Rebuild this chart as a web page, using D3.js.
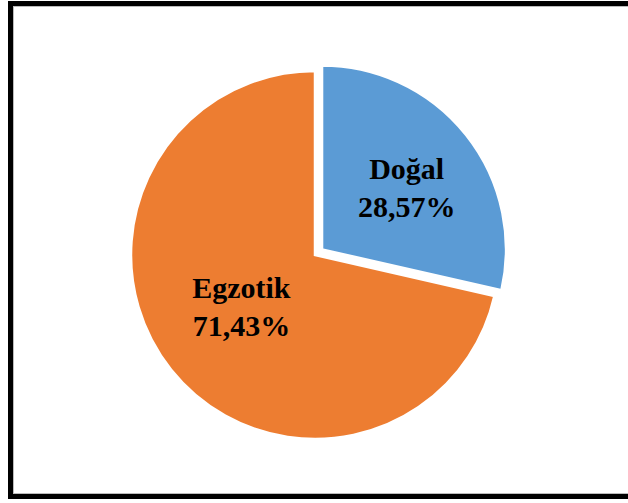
<!DOCTYPE html>
<html>
<head>
<meta charset="utf-8">
<script src="https://cdn.jsdelivr.net/npm/d3@7"></script>
<style>
  html, body { margin: 0; padding: 0; background: #fff; }
  svg { display: block; }
</style>
</head>
<body>
<svg id="chart" width="628" height="503"></svg>
<script>
// pie data
const categories = ["Doğal", "Egzotik"];
const values = [28.57, 71.43];
const labels = ["28,57%", "71,43%"];
const colors = ["#5B9BD5", "#ED7D31"];

const svg = d3.select("#chart");

// frame around the chart (right edge runs off the picture)
svg.append("rect")
    .attr("x", 10.5)
    .attr("y", 3.5)
    .attr("width", 660)
    .attr("height", 493)
    .attr("fill", "#fff")
    .attr("stroke", "#000")
    .attr("stroke-width", 5);

svg.append("rect")
    .attr("x", 13.5)
    .attr("y", 6.5)
    .attr("width", 660)
    .attr("height", 487)
    .attr("fill", "none")
    .attr("stroke", "#bbb")
    .attr("stroke-width", 1);

const cx = 315, cy = 255;
const radius = 184;
const explode = 9;

const data = categories.map((c, i) => ({ name: c, value: values[i], label: labels[i], color: colors[i] }));

const pie = d3.pie()
    .sort(null)
    .value(d => d.value);

const arc = d3.arc()
    .innerRadius(0)
    .outerRadius(radius);

const labelArc = d3.arc()
    .innerRadius(98)
    .outerRadius(98);

const arcs = pie(data);

const g = svg.append("g")
    .attr("transform", `translate(${cx},${cy})`);

const slices = g.selectAll(".slice")
    .data(arcs)
    .join("g")
    .attr("class", "slice")
    .attr("transform", (d, i) => {
        if (i !== 0) return null;
        const mid = (d.startAngle + d.endAngle) / 2;
        return `translate(${Math.sin(mid) * explode},${-Math.cos(mid) * explode})`;
    });

slices.append("path")
    .attr("d", arc)
    .attr("fill", d => d.data.color)
    .attr("stroke", "#fff")
    .attr("stroke-width", 2.5);

// small nudges so labels sit where Excel put them
const nudge = [[8, -6], [3, -15]];

const text = slices.append("text")
    .attr("transform", (d, i) => {
        const [x, y] = labelArc.centroid(d);
        return `translate(${x + nudge[i][0]},${y + nudge[i][1]})`;
    })
    .attr("text-anchor", "middle")
    .style("font-family", "'Liberation Serif', 'Times New Roman', serif")
    .style("font-weight", "bold")
    .style("font-size", "30px")
    .attr("fill", "#000");

text.append("tspan")
    .attr("x", 0)
    .attr("dy", "-0.1em")
    .text(d => d.data.name);

text.append("tspan")
    .attr("x", 0)
    .attr("dy", "1.25em")
    .text(d => d.data.label);
</script>
</body>
</html>
